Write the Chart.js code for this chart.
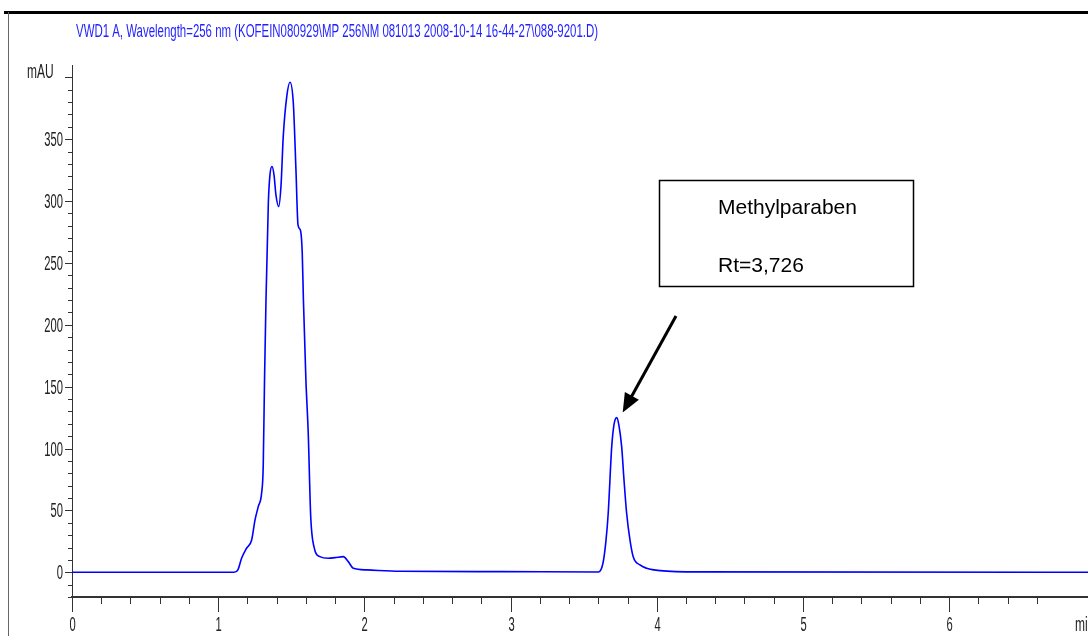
<!DOCTYPE html>
<html>
<head>
<meta charset="utf-8">
<script src="https://cdn.jsdelivr.net/npm/chart.js@4.4.0/dist/chart.umd.min.js"></script>
<style>
  html, body { margin: 0; padding: 0; background: #fff; }
  canvas { display: block; }
</style>
</head>
<body>
<canvas id="chart1" width="1088" height="636"></canvas>
<script>
// ============== Data
const times = [
  0, 1.108, 1.135, 1.160, 1.194, 1.229, 1.252, 1.274, 1.297, 1.308,
  1.317, 1.327, 1.343, 1.354, 1.368, 1.382, 1.395, 1.414, 1.430, 1.445,
  1.469, 1.491, 1.514, 1.532, 1.546, 1.562, 1.575, 1.583, 1.600, 1.616,
  1.633, 1.655, 1.696, 1.753, 1.799, 1.856, 1.890, 1.924, 2.016, 2.244,
  2.927, 3.600, 3.632, 3.653, 3.668, 3.692, 3.707, 3.726, 3.741, 3.760,
  3.776, 3.794, 3.817, 3.839, 3.885, 3.931, 4.022, 4.295, 6.95
];
const absorbance = [
  0, 0, 2, 11.3, 19.4, 26.1, 42.3, 53.0, 63.9, 85.4,
  155.5, 220, 298.3, 321, 327.9, 321, 305, 295.6, 313, 352.1,
  384.5, 396.1, 379.1, 325.2, 280.8, 276.7, 258.1, 220, 155.5, 112.4,
  44.9, 20.7, 12.6, 11.3, 11.8, 12.6, 8.6, 3.2, 1.9, 0.8,
  0.5, 0.2, 7.3, 26, 47.7, 101.5, 119, 125, 119, 101.5,
  74.6, 47.7, 26, 12.6, 5.9, 3.2, 1.3, 0.3, 0
];
const yTickLabels = [0, 50, 100, 150, 200, 250, 300, 350];
const xTickLabels = [0, 1, 2, 3, 4, 5, 6];

const titleText = 'VWD1 A, Wavelength=256 nm (KOFEIN080929\\MP 256NM 081013 2008-10-14 16-44-27\\088-9201.D)';
const peakName = 'Methylparaben';
const peakRt = 3.726;
const peakHeight = 125;

// ============== helpers
const condensedText = (ctx, text, x, y, align, sx) => {
  ctx.save();
  ctx.translate(x, y);
  ctx.scale(sx, 1);
  ctx.textAlign = align;
  ctx.fillText(text, 0, 0);
  ctx.restore();
}

const axisPlugin = {
  id: 'axisPlugin',
  afterDraw(chart) {
    const ctx = chart.ctx;
    const xs = chart.scales.x;
    const ys = chart.scales.y;
    const area = chart.chartArea;

    ctx.save();
    // frame
    ctx.fillStyle = '#000';
    ctx.fillRect(4, 11, chart.width - 4, 3);
    ctx.fillStyle = '#666';
    ctx.fillRect(8, 12, 1, chart.height - 12);

    // title
    ctx.font = '18px "Liberation Sans", Arial, sans-serif';
    ctx.fillStyle = '#1f1fff';
    ctx.textBaseline = 'middle';
    const w = ctx.measureText(titleText).width;
    condensedText(ctx, titleText, 76, 32, 'left', 522 / w);

    // y ticks
    ctx.strokeStyle = '#333';
    ctx.lineWidth = 1;
    ctx.fillStyle = '#222';
    ctx.font = '20px "Liberation Sans", Arial, sans-serif';
    ys.ticks.forEach(t => {
      if (t.value > 400) return;
      const py = Math.round(ys.getPixelForValue(t.value)) + 0.5;
      const major = t.value % 50 === 0;
      ctx.beginPath();
      ctx.moveTo(area.left - (major ? 7 : 4), py);
      ctx.lineTo(area.left, py);
      ctx.stroke();
      if (yTickLabels.includes(t.value)) {
        condensedText(ctx, String(t.value), area.left - 9, py + 1, 'right', 0.56);
      }
    });
    condensedText(ctx, 'mAU', 27, ys.getPixelForValue(400) - 5, 'left', 0.6);

    // x ticks
    xs.ticks.forEach(t => {
      const v = Math.round(t.value * 10) / 10;
      const px = Math.round(xs.getPixelForValue(v)) + 0.5;
      const major = Math.abs(v - Math.round(v)) < 0.001;
      ctx.beginPath();
      ctx.moveTo(px, area.bottom);
      ctx.lineTo(px, area.bottom + (major ? 15 : 7));
      ctx.stroke();
      if (major && xTickLabels.includes(Math.round(v))) {
        condensedText(ctx, String(Math.round(v)), px, area.bottom + 28, 'center', 0.56);
      }
    });
    condensedText(ctx, 'min', 1075, area.bottom + 28, 'left', 0.6);

    // annotation box
    ctx.strokeStyle = '#000';
    ctx.lineWidth = 1.5;
    ctx.strokeRect(659.5, 180.5, 254, 106);
    ctx.fillStyle = '#000';
    ctx.font = '21px "Liberation Sans", Arial, sans-serif';
    ctx.textBaseline = 'alphabetic';
    ctx.textAlign = 'left';
    ctx.fillText(peakName, 718, 214);
    ctx.fillText('Rt=' + String(peakRt).replace('.', ','), 718, 272);

    // arrow to the peak
    const tipX = xs.getPixelForValue(peakRt) + 6;
    const tipY = ys.getPixelForValue(peakHeight) - 5;
    const fromX = 676, fromY = 316;
    const ang = Math.atan2(tipY - fromY, tipX - fromX);
    const headLen = 19, headW = 8;
    ctx.lineWidth = 3;
    ctx.beginPath();
    ctx.moveTo(fromX, fromY);
    ctx.lineTo(tipX - Math.cos(ang) * headLen * 0.8, tipY - Math.sin(ang) * headLen * 0.8);
    ctx.stroke();
    ctx.beginPath();
    ctx.moveTo(tipX, tipY);
    ctx.lineTo(tipX - Math.cos(ang) * headLen + Math.sin(ang) * headW, tipY - Math.sin(ang) * headLen - Math.cos(ang) * headW);
    ctx.lineTo(tipX - Math.cos(ang) * headLen - Math.sin(ang) * headW, tipY - Math.sin(ang) * headLen + Math.cos(ang) * headW);
    ctx.closePath();
    ctx.fill();
    ctx.restore();
  }
};

// ============== Chart
document.addEventListener('DOMContentLoaded', () => {
  createChart1();
});

const createChart1 = () => {
  const ctx = document.getElementById('chart1').getContext('2d');
  const points = times.map((t, i) => ({ x: t, y: absorbance[i] }));

  const data = {
    datasets: [{
      label: 'VWD1 A',
      data: points,
      borderColor: '#0000ff',
      borderWidth: 1.6,
      pointRadius: 0,
      fill: false,
      cubicInterpolationMode: 'monotone',
    }]
  }

  const config = {
    type: 'line',
    data: data,
    options: {
      responsive: false,
      animation: false,
      devicePixelRatio: 1,
      layout: { padding: { top: 65, right: 0, left: 0, bottom: 0 } },
      plugins: {
        legend: { display: false },
        tooltip: { enabled: false },
      },
      scales: {
        x: {
          type: 'linear',
          min: 0,
          max: 6.95,
          ticks: { display: false, stepSize: 0.2 },
          grid: { display: false },
          border: { display: true, color: '#333', width: 2 },
          afterFit: s => { s.height = 39; },
        },
        y: {
          type: 'linear',
          min: -20,
          max: 410,
          ticks: { display: false, stepSize: 10 },
          grid: { display: false },
          border: { display: true, color: '#333', width: 1 },
          afterFit: s => { s.width = 72; },
        }
      }
    },
    plugins: [axisPlugin],
  };

  const newChart = new Chart(ctx, config);
}
</script>
</body>
</html>
